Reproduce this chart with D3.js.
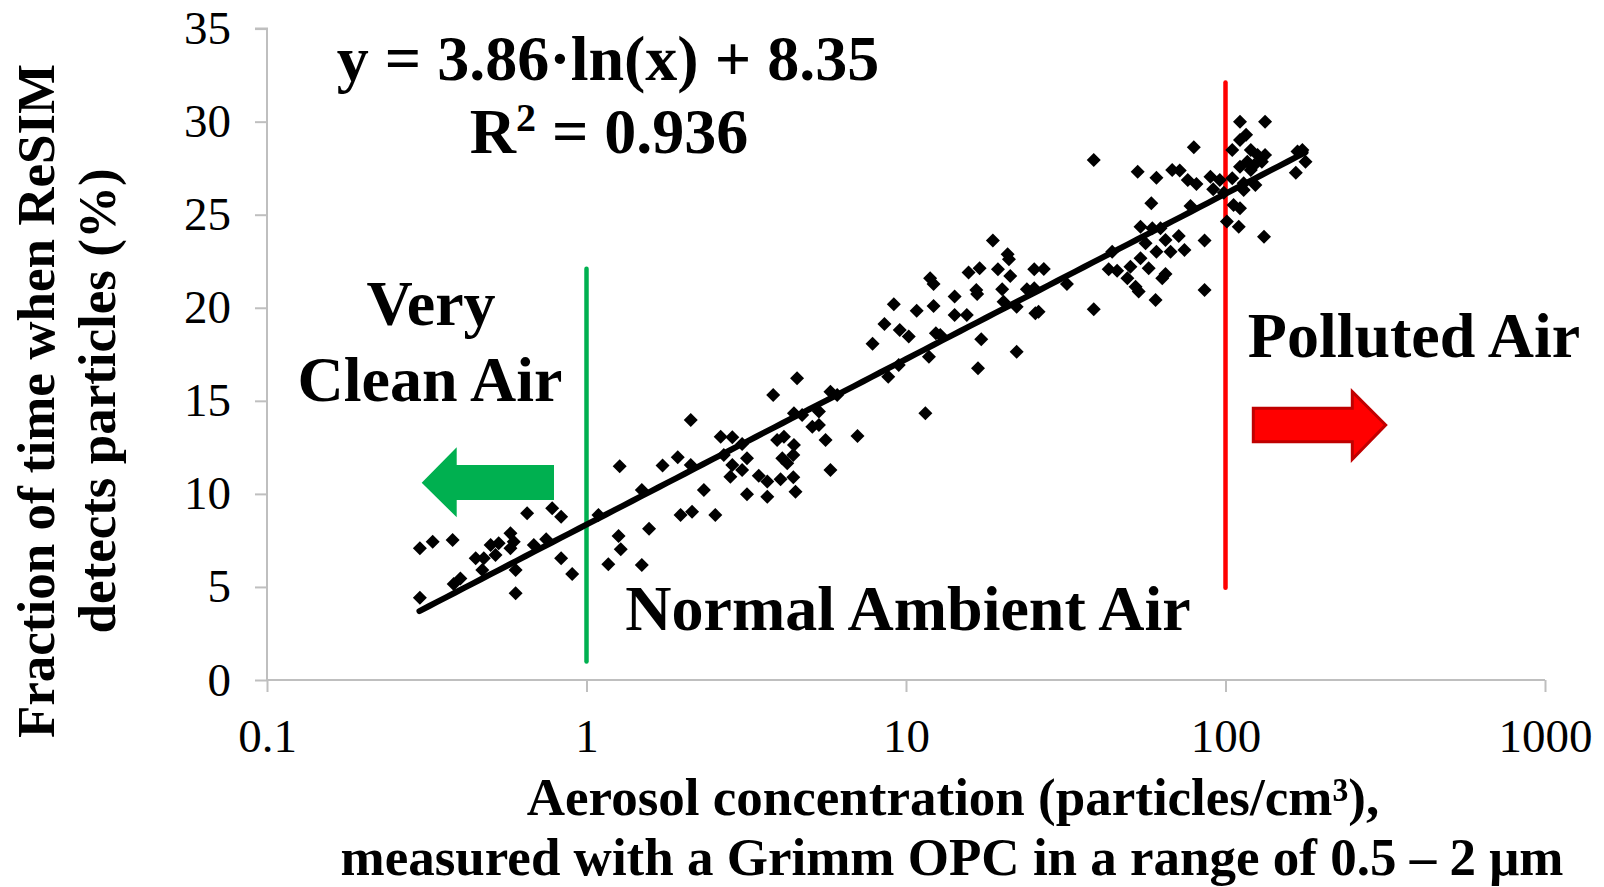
<!DOCTYPE html>
<html>
<head>
<meta charset="utf-8">
<script src="https://cdn.jsdelivr.net/npm/d3@7"></script>
<style>
  html, body { margin: 0; padding: 0; background: #fff; }
  svg { display: block; }
  text { font-family: "Liberation Serif", "Times New Roman", serif; }
</style>
</head>
<body>
<svg id="chart" width="1604" height="887"></svg>
<script>
// ---------------- DATA ----------------
const xTickValues = [0.1, 1, 10, 100, 1000];
const xTickLabels = ["0.1", "1", "10", "100", "1000"];
const yTickValues = [0, 5, 10, 15, 20, 25, 30, 35];

// Aerosol concentration (particles/cm3)
const concentration = [
  0.301,0.330,0.381,0.301,0.384,0.403,0.450,0.477,0.472,0.501,0.519,0.531,0.578,0.592,0.578,0.600,0.600,0.652,0.684,0.748,0.781,0.833,0.833,0.902,1.09,1.27,1.26,1.28,1.17,1.49,1.57,1.49,1.73,
  1.93,2.12,2.12,1.97,2.14,2.33,2.53,2.63,2.86,2.69,3.07,2.86,3.07,3.18,2.82,3.18,3.46,3.68,3.68,4.05,4.44,4.51,3.84,4.56,3.95,4.15,4.10,4.25,4.46,4.44,4.46,4.73,5.09,5.34,5.34,5.60,5.80,5.80,6.09,7.05,7.86,
  11.5,8.80,9.49,8.56,9.56,10.2,9.16,10.8,11.8,12.2,12.4,12.8,11.9,12.2,14.2,14.2,15.5,15.7,17.0,16.6,16.7,17.2,16.8,18.7,19.4,20.8,21.0,21.2,20.0,20.2,22.2,22.2,23.9,25.2,25.2,27.0,25.4,26.0,31.9,38.7,38.7,43.1,45.8,44.2,
  49.3,50.4,52.3,53.5,54.2,57.5,60.4,63.4,64.9,67.3,60.8,56.2,54.2,59.0,62.6,64.9,71.4,74.4,86.0,86.0,58.6,53.1,60.8,68.1,71.9,76.2,81.1,77.7,79.6,89.7,91.5,96.0,101,110,106,111,98.8,105,114,124,114,105,111,116,111,133,120,126,133,130,123,117,120,111,132,166,168,178,174
];
// Fraction of time when ReSIM detects particles (%)
const fraction = [
  7.08,7.43,7.52,4.42,5.16,5.46,6.54,6.54,5.91,7.25,6.72,7.35,7.88,7.43,7.08,5.91,4.66,8.96,7.25,7.56,9.23,8.77,6.54,5.70,8.87,11.48,7.74,7.02,6.22,6.18,8.13,10.21,11.53,
  11.97,13.97,11.55,8.87,9.04,10.21,8.87,13.07,13.04,12.09,12.68,11.55,11.28,11.91,10.92,9.98,10.98,10.66,9.85,10.78,10.89,10.12,15.31,16.21,12.90,13.07,11.91,11.64,12.63,12.09,14.33,14.24,13.61,13.70,14.42,12.90,11.28,15.49,15.31,13.11,18.07,
  14.33,16.30,16.93,19.13,18.81,18.45,20.19,19.84,17.37,20.10,18.63,18.54,21.58,21.28,20.60,19.61,19.61,21.89,22.12,20.96,20.74,18.31,16.75,23.61,22.07,22.87,22.61,21.71,20.99,20.33,20.06,17.64,20.99,21.05,22.07,22.08,19.70,19.79,21.28,19.92,27.94,22.07,21.99,23.01,
  21.58,22.21,21.13,20.87,22.66,22.12,20.42,21.58,21.82,23.01,23.01,23.47,24.36,24.27,24.27,23.64,23.86,23.11,23.61,20.96,25.62,27.31,26.99,27.40,27.37,26.87,26.65,25.47,28.62,27.04,26.37,26.87,24.63,24.36,25.52,25.35,26.18,26.96,26.69,26.60,26.33,28.48,29.02,29.29,30.0,30.0,28.48,28.21,28.21,27.85,27.67,27.85,27.40,27.58,23.82,27.26,28.39,27.85,28.48
];

// Logarithmic trendline y = a*ln(x) + b
const fitA = 3.86;
const fitB = 8.35;
const fitRange = [0.3, 178];

// Threshold markers: [x, yFrom, yTo]
const cleanThreshold = [1, 1.0, 22.1];
const pollutedThreshold = [100, 4.95, 32.1];

// ---------------- CHART ----------------
const svg = d3.select("#chart");
const plot = { left: 267, right: 1545, top: 28.6, bottom: 680 };

const x = d3.scaleLog().domain([0.1, 1000]).range([plot.left, plot.right]);
const y = d3.scaleLinear().domain([0, 35]).range([plot.bottom, plot.top]);

const axisColor = "#BFBFBF";

// Y axis
const yAxis = svg.append("g")
  .attr("transform", `translate(${plot.left},0)`)
  .call(d3.axisLeft(y).tickValues(yTickValues).tickSize(12).tickPadding(24).tickFormat(d3.format("d")));
yAxis.select(".domain").attr("stroke", axisColor).attr("stroke-width", 2).attr("d", `M-12,${y(35)}H0V${y(0)}`);
yAxis.selectAll(".tick line").attr("stroke", axisColor).attr("stroke-width", 2);
yAxis.selectAll(".tick text").attr("font-family", "Liberation Serif").attr("font-size", 47).attr("fill", "#000");

// X axis
const xAxis = svg.append("g")
  .attr("transform", `translate(0,${plot.bottom})`)
  .call(d3.axisBottom(x).tickValues(xTickValues).tickSize(12).tickPadding(27)
    .tickFormat((d, i) => xTickLabels[i]));
xAxis.select(".domain").attr("stroke", axisColor).attr("stroke-width", 2).attr("d", `M${x(0.1)},0H${x(1000)}`);
xAxis.selectAll(".tick line").attr("stroke", axisColor).attr("stroke-width", 2);
xAxis.selectAll(".tick text").attr("font-family", "Liberation Serif").attr("font-size", 47).attr("fill", "#000");

// Threshold lines
svg.append("line")
  .attr("x1", x(cleanThreshold[0])).attr("x2", x(cleanThreshold[0]))
  .attr("y1", y(cleanThreshold[1])).attr("y2", y(cleanThreshold[2]))
  .attr("stroke", "#00B050").attr("stroke-width", 4.5).attr("stroke-linecap", "round");
svg.append("line")
  .attr("x1", x(pollutedThreshold[0])).attr("x2", x(pollutedThreshold[0]))
  .attr("y1", y(pollutedThreshold[1])).attr("y2", y(pollutedThreshold[2]))
  .attr("stroke", "#FF0000").attr("stroke-width", 4.5).attr("stroke-linecap", "round");

// Points (diamonds)
const pts = concentration.map((c, i) => ({ c, f: fraction[i] }));
const r = 7;
svg.append("g").selectAll("path").data(pts).join("path")
  .attr("transform", d => `translate(${x(d.c)},${y(d.f)})`)
  .attr("d", `M0,${-r}L${r},0L0,${r}L${-r},0Z`)
  .attr("fill", "#000");

// Trendline
const fitPts = d3.range(0, 101).map(i => {
  const lx = Math.log10(fitRange[0]) + (Math.log10(fitRange[1]) - Math.log10(fitRange[0])) * i / 100;
  const xv = Math.pow(10, lx);
  return [xv, fitA * Math.log(xv) + fitB];
});
svg.append("path")
  .attr("d", d3.line().x(d => x(d[0])).y(d => y(d[1]))(fitPts))
  .attr("fill", "none").attr("stroke", "#000").attr("stroke-width", 6).attr("stroke-linecap", "round");

// Arrows
// green left arrow
svg.append("path")
  .attr("d", "M421.7,482.7 L456.7,447.3 L456.7,465 L554,465 L554,500 L456.7,500 L456.7,517.3 Z")
  .attr("fill", "#00B050");
// red right arrow
svg.append("path")
  .attr("d", "M1385.7,425 L1352.3,391.7 L1352.3,408.3 L1253.3,408.3 L1253.3,441.7 L1352.3,441.7 L1352.3,459.3 Z")
  .attr("fill", "#FF0000").attr("stroke", "#C00000").attr("stroke-width", 3).attr("stroke-linejoin", "miter");

// Annotations
function label(txt, cx, by, size) {
  return svg.append("text").attr("x", cx).attr("y", by)
    .attr("text-anchor", "middle").attr("font-weight", "bold")
    .attr("font-size", size).attr("fill", "#000").text(txt);
}
label("y = 3.86·ln(x) + 8.35", 608, 80, 64);
const r2 = svg.append("text").attr("x", 609).attr("y", 153)
  .attr("text-anchor", "middle").attr("font-weight", "bold").attr("font-size", 64).attr("fill", "#000");
r2.append("tspan").text("R");
r2.append("tspan").text("2").attr("font-size", 40).attr("dy", -22);
r2.append("tspan").text(" = 0.936").attr("dy", 22);
label("Very", 431, 325, 64);
label("Clean Air", 430, 401, 64);
label("Normal Ambient Air", 908, 630, 64);
label("Polluted Air", 1414, 357, 64);

// Axis titles
label("Aerosol concentration (particles/cm³),", 953, 815, 53);
label("measured with a Grimm OPC in a range of 0.5 – 2 μm", 952, 875, 53);

const yt = svg.append("g").attr("transform", "translate(0,401) rotate(-90)");
yt.append("text").attr("x", 0).attr("y", 54).attr("text-anchor", "middle")
  .attr("font-weight", "bold").attr("font-size", 53).text("Fraction of time when ReSIM");
yt.append("text").attr("x", 0).attr("y", 115).attr("text-anchor", "middle")
  .attr("font-weight", "bold").attr("font-size", 53).text("detects particles (%)");
</script>
</body>
</html>
